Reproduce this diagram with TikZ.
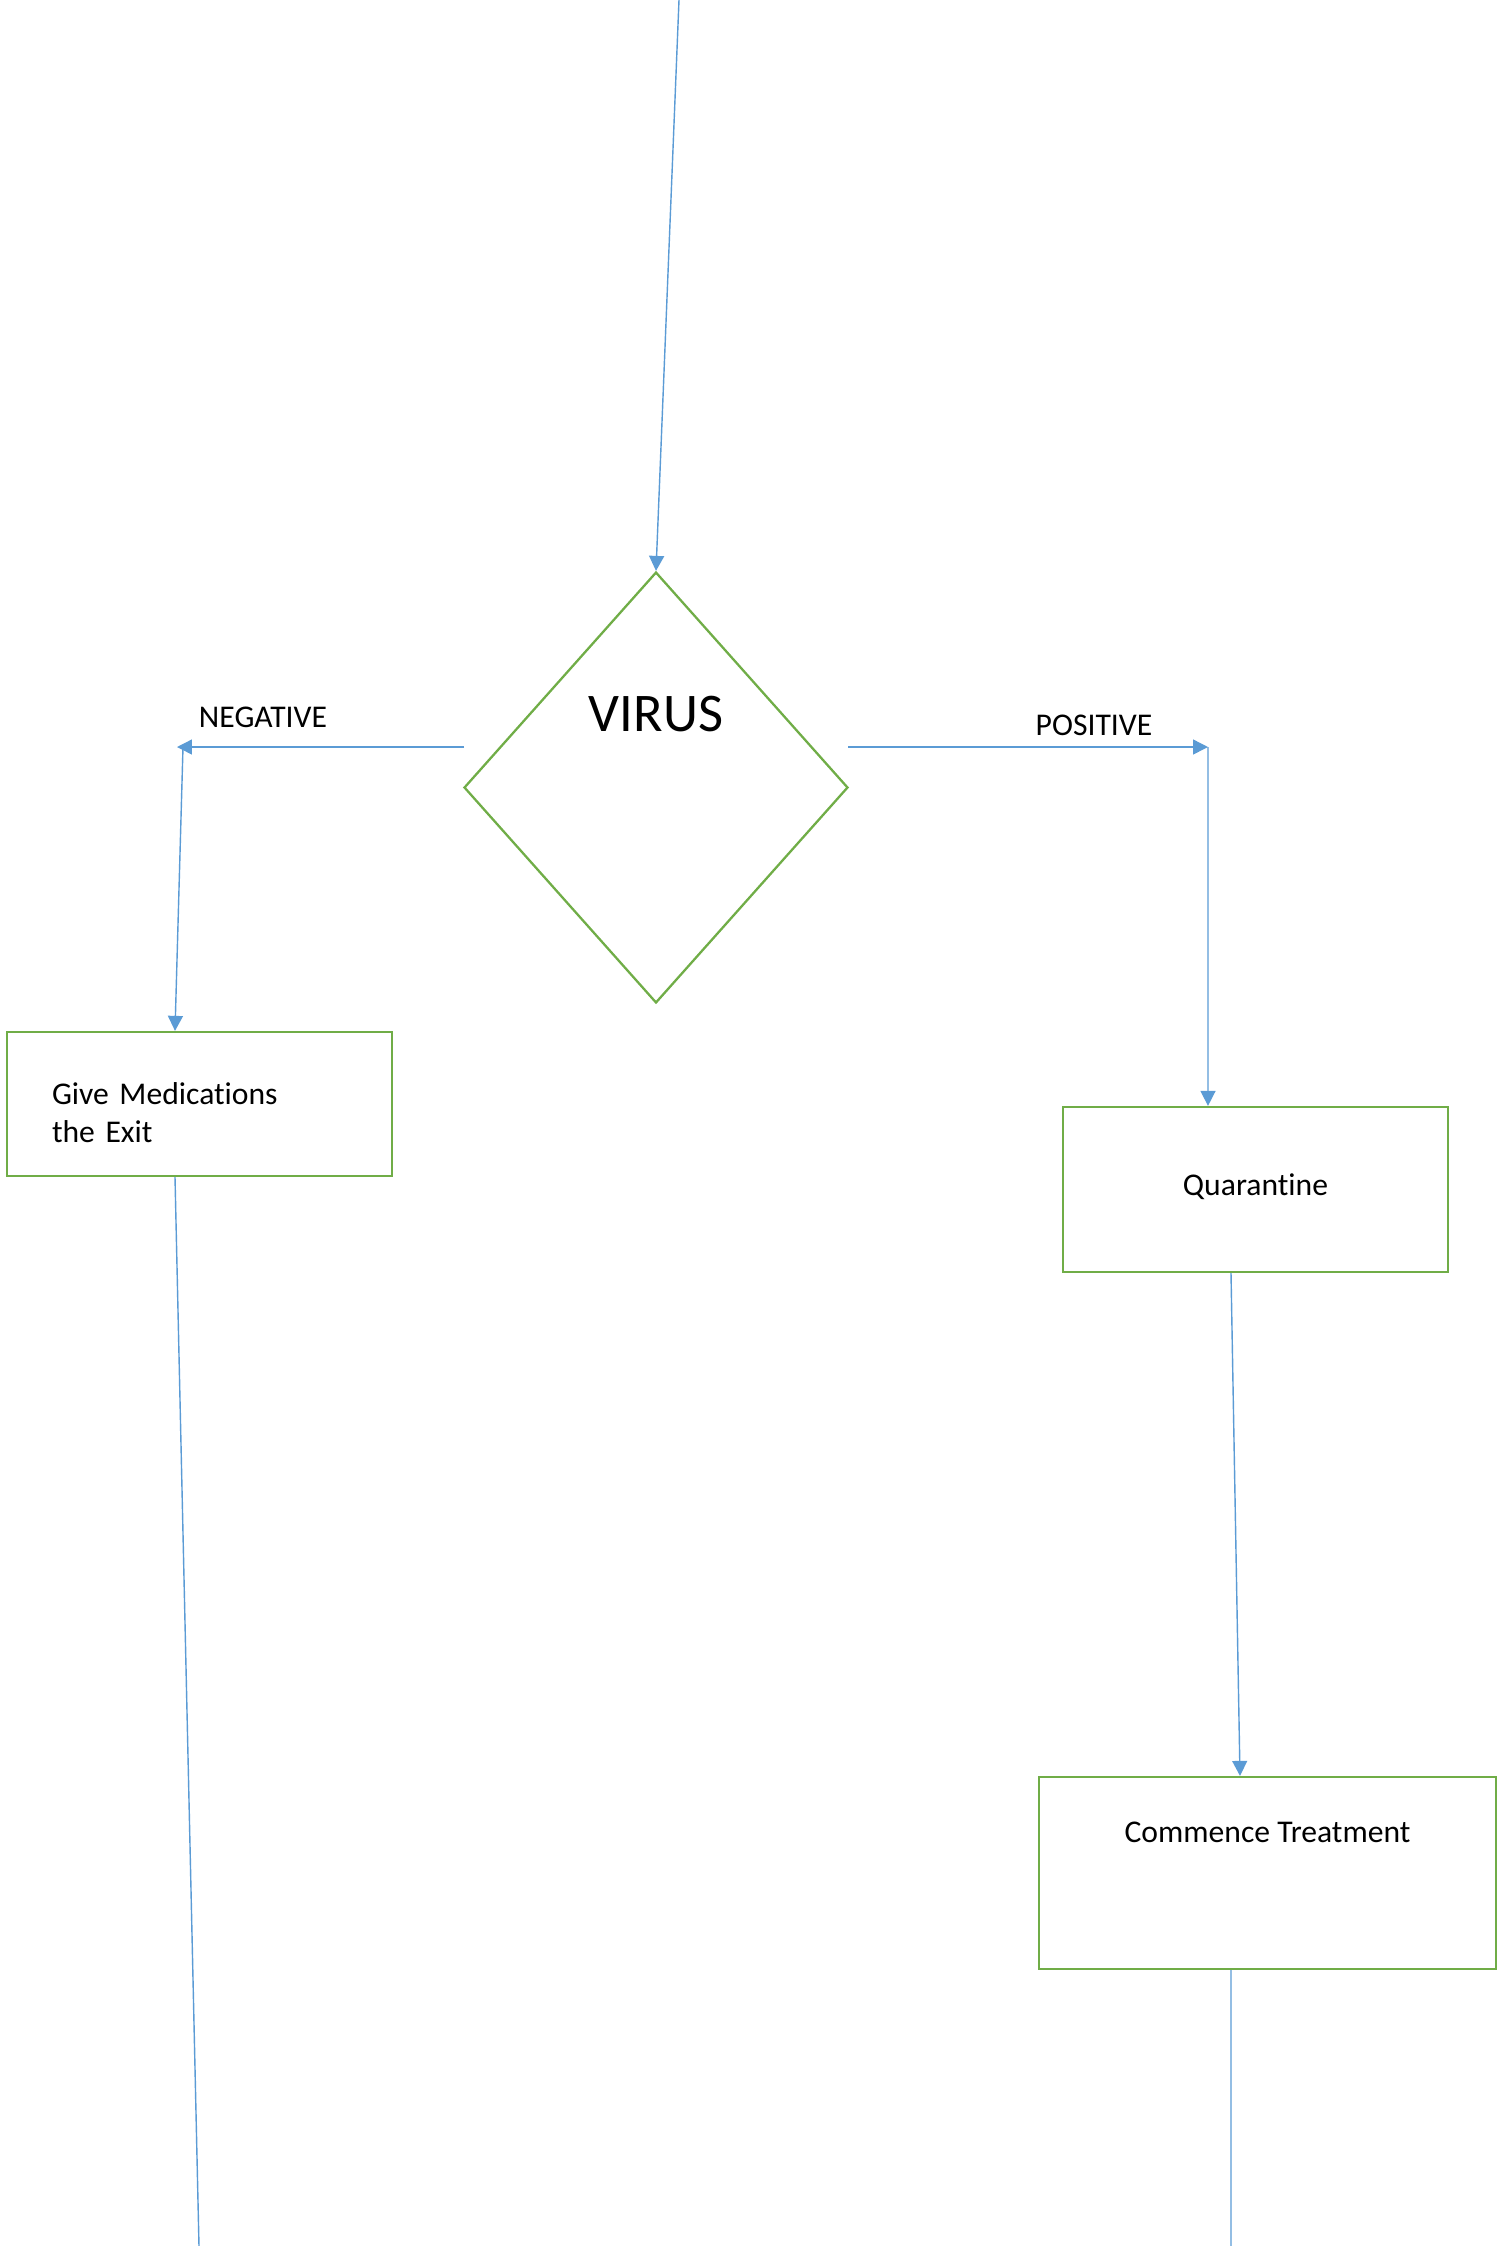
\documentclass[tikz,border=0pt]{standalone}
\usepackage{fontspec}
\setmainfont{Carlito}[Ligatures=NoCommon]
\usepackage{tikz}
\usetikzlibrary{shapes.geometric,arrows.meta}

\definecolor{flowblue}{HTML}{5B9BD5}
\definecolor{flowgreen}{HTML}{70AD47}

\tikzset{
	box/.style={rectangle,draw=flowgreen,line width=1.3pt,inner sep=0pt,
		font=\fontsize{18}{21.6}\selectfont},
	decide/.style={diamond,draw=flowgreen,line width=1.3pt,inner sep=0pt},
	lbl/.style={inner sep=0pt,anchor=base,font=\fontsize{18}{21.6}\selectfont},
	arr/.style={draw=flowblue,line width=0.8pt,
		-{Triangle[length=0.3cm,width=0.3cm]}},
	ln/.style={draw=flowblue,line width=0.8pt}
}

\begin{document}
\begin{tikzpicture}[x=0.02cm,y=-0.02cm]
	
		\useasboundingbox (0,0) rectangle (1500,2246);
	
		\node[decide,minimum width=7.68cm,minimum height=8.62cm] (virus) at (656,787.5) {};
		\node[lbl,font=\fontsize{31}{37}\selectfont] (virustxt) at (656,731) {VIRUS};
		\node[box,minimum width=7.7cm,minimum height=2.88cm,text width=5.9cm,
			inner xsep=0.9cm,align=left,text depth=0.42cm] (give) at (199.5,1104)
			{Give Medications\\the Exit};
		\node[box,minimum width=7.7cm,minimum height=3.3cm,text depth=0.2cm] (quar)
			at (1255.5,1189.5) {Quarantine};
		\node[box,minimum width=9.14cm,minimum height=3.84cm,text height=0.5cm,
			text depth=1.74cm] (treat) at (1267.5,1873) {Commence Treatment};
		\node[lbl] (neg) at (263,727) {NEGATIVE};
		\node[lbl] (pos) at (1094,735) {POSITIVE};
		
		\coordinate (top) at (679,0);
		\coordinate (negfrom) at (464,747);
		\coordinate (negto) at (177,747);
		\coordinate (negturn) at (183,747);
		\coordinate (posfrom) at (848,747);
		\coordinate (posturn) at (1208,747);
		\coordinate (giveout) at (199,2246);
		\coordinate (treatout) at (1231,2246);
		
		\draw[arr] (top) -- (virus.north);
		\draw[arr] (negfrom) -- (negto);
		\draw[arr] (negturn) -- ([xshift=-0.49cm]give.north);
		\draw[ln] ([xshift=-0.49cm]give.south) -- (giveout);
		\draw[arr] (posfrom) -- (posturn);
		\draw[arr] (posturn) -- ([xshift=-0.95cm]quar.north);
		\draw[arr] ([xshift=-0.49cm]quar.south) -- ([xshift=-0.55cm]treat.north);
		\draw[ln] ([xshift=-0.73cm]treat.south) -- (treatout);
		
	\end{tikzpicture}
\end{document}
